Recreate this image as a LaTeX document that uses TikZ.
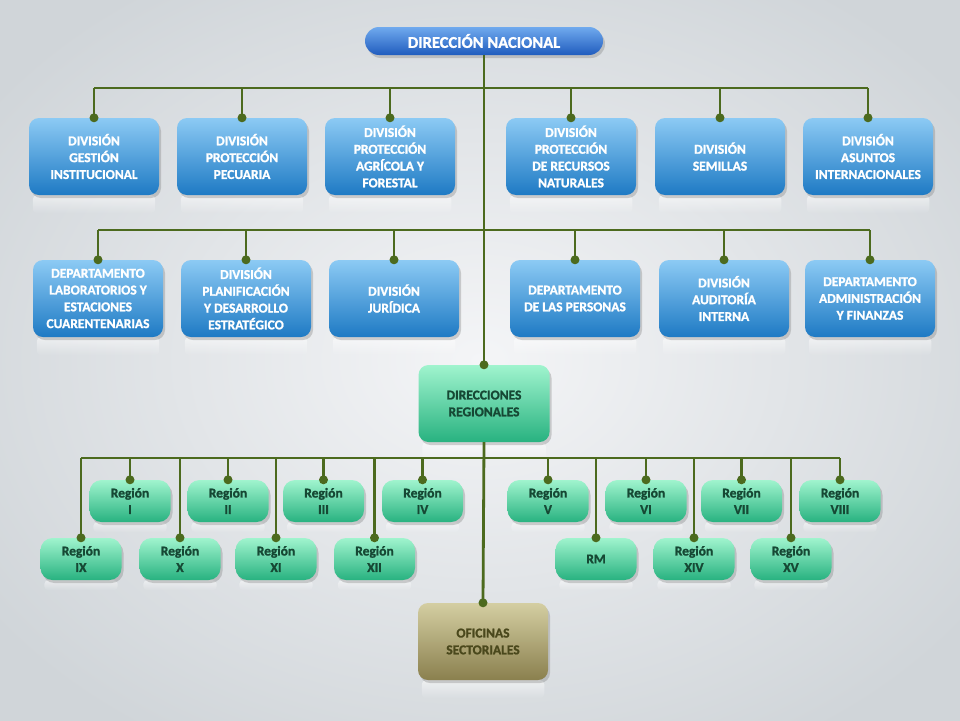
\documentclass[tikz,border=0pt]{standalone}
\usepackage{fontspec}
\setmainfont{Carlito}[BoldFeatures={FakeBold=1.3}]
\usetikzlibrary{shadows,fadings}
\pgfdeclarelayer{back}
\pgfdeclarelayer{refl}
\pgfsetlayers{back,refl,main}
\definecolor{bgin}{RGB}{244,245,247}
\definecolor{bgout}{RGB}{208,213,217}
\definecolor{bluetop}{RGB}{140,202,244}
\definecolor{bluebot}{RGB}{30,122,196}
\definecolor{pilltop}{RGB}{112,170,238}
\definecolor{pillbot}{RGB}{32,92,190}
\definecolor{grtop}{RGB}{160,244,206}
\definecolor{grbot}{RGB}{40,178,128}
\definecolor{grtext}{RGB}{22,72,52}
\definecolor{oltop}{RGB}{212,206,162}
\definecolor{olbot}{RGB}{138,128,78}
\definecolor{oltext}{RGB}{74,72,28}
\definecolor{lineg}{RGB}{76,106,30}
\begin{document}
\begin{tikzpicture}[x=1pt,y=-1pt,
  box/.style={rectangle, rounded corners=10pt, inner sep=0pt, align=center,
    drop shadow={opacity=0.35, shadow xshift=2pt, shadow yshift=-3pt}},
  bluebox/.style={box, minimum width=130pt, minimum height=77pt,
    top color=bluetop, bottom color=bluebot, text=white,
    font=\bfseries\fontsize{13.5}{16.8}\selectfont},
  regbox/.style={box, rounded corners=12pt, minimum width=81pt, minimum height=42pt,
    top color=grtop, bottom color=grbot, text=grtext,
    font=\bfseries\fontsize{13.5}{16.5}\selectfont},
  conn/.style={draw=lineg, line width=2.8pt},
  dot/.style={circle, fill=lineg, inner sep=0pt, minimum size=9pt}]
\useasboundingbox (0,0) rectangle (960,720);
\begin{pgfonlayer}{back}
\clip (0,0) rectangle (960,720);
\shade[inner color=bgin, outer color=bgout] (-120,-90) rectangle (1080,810);
\end{pgfonlayer}

% top
\node[box, rounded corners=14pt, minimum width=238pt, minimum height=28pt,
  top color=pilltop, bottom color=pillbot, text=white,
  font=\bfseries\fontsize{16.5}{18}\selectfont] (dn) at (484,41) {DIRECCIÓN NACIONAL};

% row 1
\node[bluebox] (d1) at (94,156.5) {DIVISIÓN\\GESTIÓN\\INSTITUCIONAL};
\node[bluebox] (d2) at (242,156.5) {DIVISIÓN\\PROTECCIÓN\\PECUARIA};
\node[bluebox] (d3) at (390,156.5) {DIVISIÓN\\PROTECCIÓN\\AGRÍCOLA Y\\FORESTAL};
\node[bluebox] (d4) at (571,156.5) {DIVISIÓN\\PROTECCIÓN\\DE RECURSOS\\NATURALES};
\node[bluebox] (d5) at (720,156.5) {DIVISIÓN\\SEMILLAS};
\node[bluebox] (d6) at (868,156.5) {DIVISIÓN\\ASUNTOS\\INTERNACIONALES};

% row 2
\node[bluebox] (e1) at (98,298.5) {DEPARTAMENTO\\LABORATORIOS Y\\ESTACIONES\\CUARENTENARIAS};
\node[bluebox] (e2) at (246,298.5) {DIVISIÓN\\PLANIFICACIÓN\\Y DESARROLLO\\ESTRATÉGICO};
\node[bluebox] (e3) at (394,298.5) {DIVISIÓN\\JURÍDICA};
\node[bluebox] (e4) at (575,298.5) {DEPARTAMENTO\\DE LAS PERSONAS};
\node[bluebox] (e5) at (724,298.5) {DIVISIÓN\\AUDITORÍA\\INTERNA};
\node[bluebox] (e6) at (870,298.5) {DEPARTAMENTO\\ADMINISTRACIÓN\\Y FINANZAS};

% regional
\node[box, minimum width=131pt, minimum height=77pt, top color=grtop, bottom color=grbot,
  text=grtext, font=\bfseries\fontsize{13.5}{16.8}\selectfont] (dr) at (484,403.5) {DIRECCIONES\\REGIONALES};

\node[regbox] (r1) at (130,501) {Región\\I};
\node[regbox] (r2) at (228,501) {Región\\II};
\node[regbox] (r3) at (323.5,501) {Región\\III};
\node[regbox] (r4) at (422.5,501) {Región\\IV};
\node[regbox] (r5) at (548,501) {Región\\V};
\node[regbox] (r6) at (646,501) {Región\\VI};
\node[regbox] (r7) at (741.5,501) {Región\\VII};
\node[regbox] (r8) at (840,501) {Región\\VIII};
\node[regbox] (r9) at (81,559) {Región\\IX};
\node[regbox] (r10) at (180,559) {Región\\X};
\node[regbox] (r11) at (276,559) {Región\\XI};
\node[regbox] (r12) at (374.5,559) {Región\\XII};
\node[regbox] (rm) at (596,559) {RM};
\node[regbox] (r14) at (694,559) {Región\\XIV};
\node[regbox] (r15) at (791,559) {Región\\XV};

% oficinas
\node[box, minimum width=130pt, minimum height=77pt, top color=oltop, bottom color=olbot,
  text=oltext, font=\bfseries\fontsize{13.5}{16.8}\selectfont] (of) at (483,641.5) {OFICINAS\\SECTORIALES};

% reflections
\begin{pgfonlayer}{refl}
\foreach \n in {d1,d2,d3,d4,d5,d6,e1,e2,e3,e4,e5,e6,dr,of}
  \fill[white, opacity=0.55, path fading=south, rounded corners=4pt]
    ([xshift=4pt]\n.south west) rectangle ([xshift=-4pt,yshift=-18pt]\n.south east);
\foreach \n in {r1,r2,r3,r4,r5,r6,r7,r8,r9,r10,r11,r12,rm,r14,r15}
  \fill[white, opacity=0.5, path fading=south, rounded corners=4pt]
    ([xshift=4pt]\n.south west) rectangle ([xshift=-4pt,yshift=-10pt]\n.south east);
\end{pgfonlayer}

% connectors
\coordinate (b1) at (0,88);
\coordinate (b2) at (0,230);
\coordinate (b3) at (0,458);
\draw[conn] (dn.south) -- (dr.north);
\draw[conn] (dr.south) -- (of.north);
\draw[conn] (d1.north |- b1) -- (d6.north |- b1);
\draw[conn] (e1.north |- b2) -- (e6.north |- b2);
\draw[conn] (r9.north |- b3) -- (r8.north |- b3);
\foreach \n in {d1,d2,d3,d4,d5,d6}
  \draw[conn] (\n.north |- b1) -- (\n.north);
\foreach \n in {e1,e2,e3,e4,e5,e6}
  \draw[conn] (\n.north |- b2) -- (\n.north);
\foreach \n in {r1,r2,r3,r4,r5,r6,r7,r8,r9,r10,r11,r12,rm,r14,r15}
  \draw[conn] (\n.north |- b3) -- (\n.north);
\foreach \n in {d1,d2,d3,d4,d5,d6,e1,e2,e3,e4,e5,e6,dr,of,r1,r2,r3,r4,r5,r6,r7,r8,r9,r10,r11,r12,rm,r14,r15}
  \node[dot] at (\n.north) {};
\end{tikzpicture}
\end{document}
